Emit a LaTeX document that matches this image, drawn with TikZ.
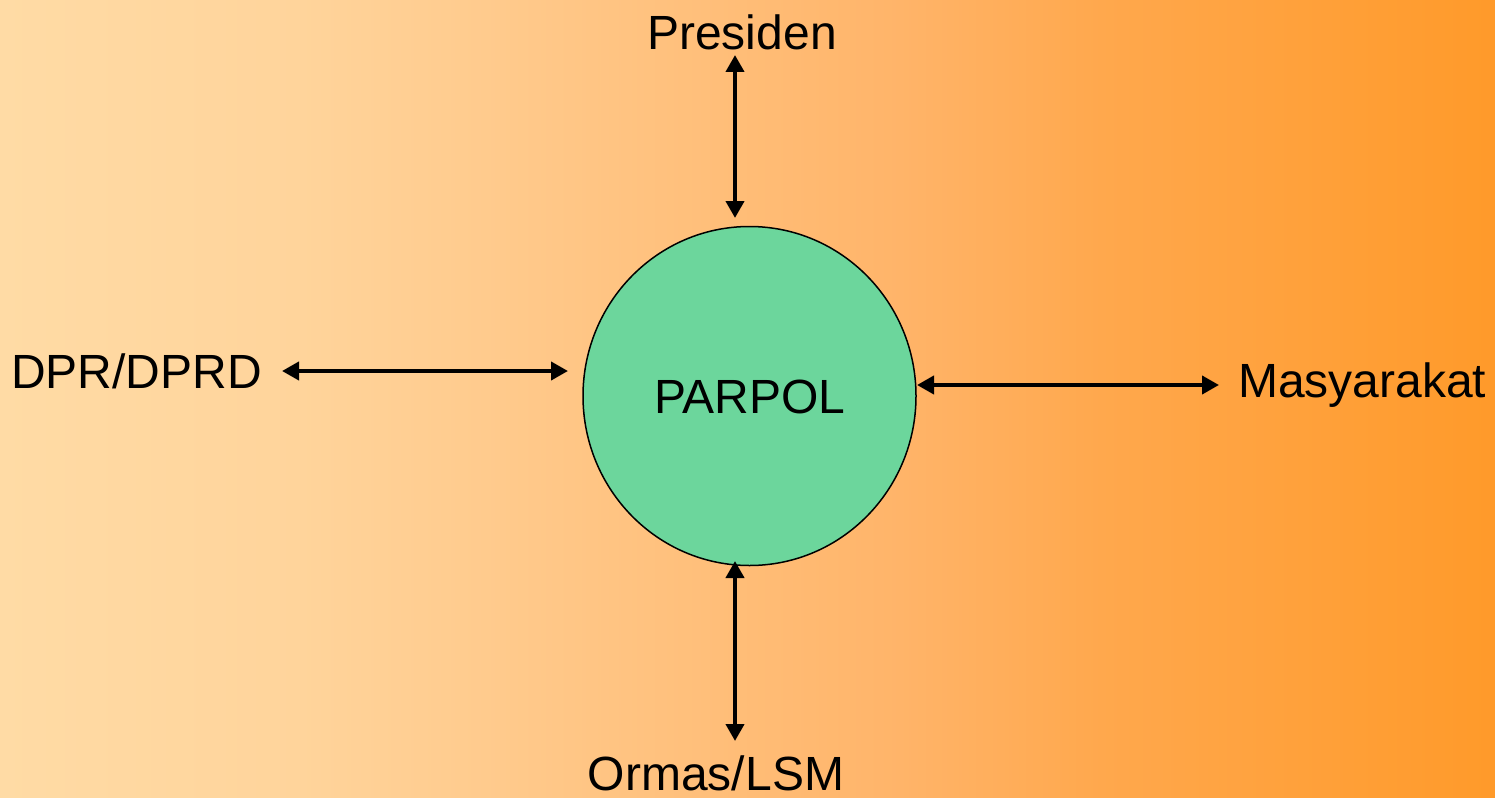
\documentclass[tikz,border=0pt]{standalone}
\usepackage{fontspec}
\setmainfont{Liberation Sans}
\usetikzlibrary{arrows.meta,shapes.geometric}
\definecolor{cA}{HTML}{FFDBA5}
\definecolor{cB}{HTML}{FFD49B}
\definecolor{cC}{HTML}{FFCA8C}
\definecolor{cD}{HTML}{FFB469}
\definecolor{cE}{HTML}{FFA84D}
\definecolor{cF}{HTML}{FF9A2A}
\definecolor{circfill}{HTML}{6CD69C}
\tikzset{
  lbl/.style={font=\fontsize{48}{57}\selectfont, inner sep=0pt},
  conn/.style={line width=4pt, {Triangle[length=17pt,width=18pt]}-{Triangle[length=17pt,width=18pt]}},
}
\begin{document}
\begin{tikzpicture}[x=1pt,y=-1pt]
\useasboundingbox (0,0) rectangle (1495,797);
\shade[left color=cA,right color=cB] (0,0) rectangle (301,797);
\shade[left color=cB,right color=cC] (300,0) rectangle (501,797);
\shade[left color=cC,right color=cD] (500,0) rectangle (901,797);
\shade[left color=cD,right color=cE] (900,0) rectangle (1101,797);
\shade[left color=cE,right color=cF] (1100,0) rectangle (1495,797);
\node[ellipse, draw=black, line width=1.5pt, fill=circfill, minimum width=333pt, minimum height=339pt, inner sep=0pt] (parpol) at (749.5,396) {};
\node[lbl] (ptext) at (750,397) {PARPOL};
\node[lbl] (pres) at (742,32) {Presiden};
\node[lbl, anchor=west] (dpr) at (11,371) {DPR/DPRD};
\node[lbl, anchor=west] (mas) at (1238,385) {Masyarakat};
\node[lbl] (ormas) at (716,773) {Ormas/LSM};
\coordinate (t1) at (735,55);
\coordinate (t2) at (735,218);
\coordinate (b1) at (735,561);
\coordinate (b2) at (735,741);
\coordinate (l1) at (282,371);
\coordinate (l2) at (568,371);
\coordinate (r1) at (917,385);
\coordinate (r2) at (1219,385);
\draw[conn] (t1) -- (t2);
\draw[conn] (b1) -- (b2);
\draw[conn] (l1) -- (l2);
\draw[conn] (r1) -- (r2);
\end{tikzpicture}
\end{document}
